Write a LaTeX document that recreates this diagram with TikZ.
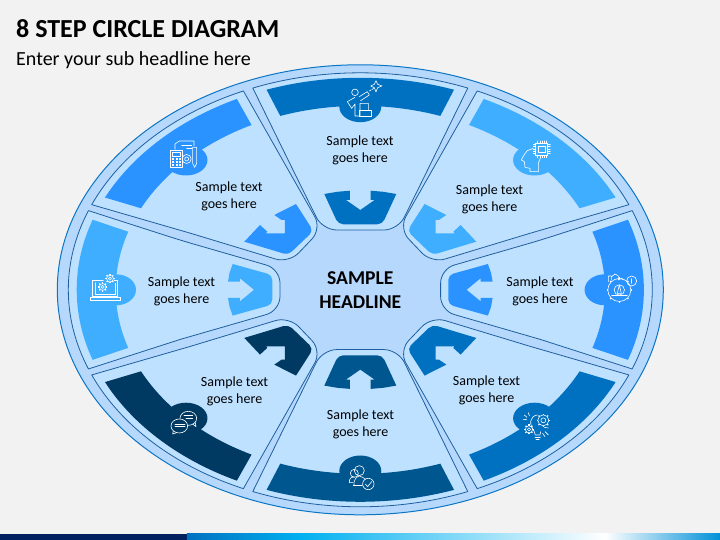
\documentclass[tikz,border=0pt]{standalone}
\usepackage{fontspec}
\setmainfont{Carlito}
\usetikzlibrary{calc}
\definecolor{bgc}{HTML}{F2F2F2}
\definecolor{ringc}{HTML}{B6D8FD}
\definecolor{ringl}{HTML}{0B76C5}
\definecolor{petalc}{HTML}{BDE1FF}
\definecolor{petall}{HTML}{1F5F9E}
\definecolor{colA}{HTML}{0070C0}
\definecolor{colB}{HTML}{2A93FF}
\definecolor{colC}{HTML}{3FAEFF}
\definecolor{colD}{HTML}{00568F}
\definecolor{colE}{HTML}{003A63}
\definecolor{navyc}{HTML}{002060}
\definecolor{skyc}{HTML}{00B0F0}
\definecolor{endc}{HTML}{0090D8}
\tikzset{
  petal/.style={fill=petalc,draw=petall,line width=.8pt,line join=round},
  zf/.style 2 args={shift={({#1-360.3},{289.8-#2})},x=.3333pt,y=-.3333pt},
  icon/.style={draw=white,line width=.6pt,line join=round,line cap=round,fill=none},
  label/.style={align=center,font=\fontsize{14}{17}\selectfont,text=black,inner sep=0pt},
  rc/.style={rounded corners=14pt},
  ra/.style={rounded corners=5pt}
}
% petal paths, in coordinates round the centre
\newcommand\petalTop{(111.6:292 and 217) arc[start angle=111.6,end angle=68.4,x radius=292,y radius=217]
  -- (60,105) [rc] -- (37.7,59.8) -- (-37.7,59.8) -- (-60,105) [sharp corners] -- cycle}
\newcommand\petalDiag{(113.6:292 and 217) arc[start angle=113.6,end angle=156.9,x radius=292,y radius=217]
  -- (-170,56.6) [rc] -- (-71.3,26.7) -- (-38.6,61) -- (-70,116.2) [sharp corners] -- cycle}
\newcommand\petalSide{(158.6:292 and 217) arc[start angle=158.6,end angle=201.4,x radius=292,y radius=217]
  -- (-180,-49.6) [rc] -- (-80.3,-20.8) -- (-80.3,20.8) -- (-180,49.6) [sharp corners] -- cycle}
% arrows
\newcommand\arrowTop{(-36,95.8) -- (-23,98) -- (-10.3,99.1) -- (-10.3,89.8) -- (-14.3,89.8) -- (0,79.8) -- (14.3,89.8) -- (10.3,89.8) -- (10.3,99.1) -- (23,98) -- (36,95.8) -- (28.7,80) [ra] -- (22,65.5) -- (-22,65.5) -- (-28.7,80) [sharp corners] -- cycle}
\newcommand\arrowSide{(-127.6,25.8) -- (-130.8,16.8) -- (-132.3,8.1) -- (-120.3,8.1) -- (-120.3,11.5) -- (-106.3,0) -- (-120.3,-11.5) -- (-120.3,-8.1) -- (-132.3,-8.1) -- (-130.8,-16.8) -- (-127.6,-25.8) -- (-105,-19.5) [ra] -- (-88,-14.8) -- (-88,14.8) -- (-105,19.5) [sharp corners] -- cycle}
\newcommand\arrowDiag{(-64.3,85.8) -- (-86,74.8) -- (-78.6,69.8) -- (-75.3,69.8) -- (-75.3,56.5) -- (-94.3,56.5) -- (-93,58.1) -- (-100.3,64.8) -- (-116,48.1) -- (-94,41.5) [ra] -- (-72,34.8) -- (-47,58.8) -- (-55.6,72.3) [sharp corners] -- cycle}
% band with tab
\newcommand\band[7]{%
  \fill[#5] (#1:283.6 and 212) arc[start angle=#1,end angle=#2,x radius=283.6,y radius=212]
     -- (#4:244.6 and 184) arc[start angle=#4,end angle=#3,x radius=244.6,y radius=184] -- cycle;
  \fill[#5] #6 ellipse [x radius=#7,y radius=15.5];}
\newcommand\icongear[3]{% x y r(pt) in the zoom frame
  \draw[icon] (#1,#2) circle (#3pt);
  \foreach \a in {0,45,...,315}{\draw[icon,line width=1.2pt,line cap=butt] ([shift={(#1,#2)}]\a:#3pt) -- ([shift={(#1,#2)}]\a:#3pt+1.3pt);}
  \draw[icon] (#1,#2) circle (#3pt*.45);}
\begin{document}
\begin{tikzpicture}[x=1pt,y=1pt]
\useasboundingbox (-360.3,-250.2) rectangle (359.7,289.8);
\fill[bgc] (-360.3,-250.2) rectangle (359.7,289.8);
% bottom stripe
\fill[navyc] (-360.3,-250.2) rectangle (-173.3,-244.2);
\shade[left color=colA,right color=skyc] (-173.3,-250.2) rectangle (-60.3,-244.2);
\shade[left color=skyc,right color=white] (-60.3,-250.2) rectangle (244.7,-244.2);
\shade[left color=white,right color=endc] (244.7,-250.2) rectangle (359.7,-244.2);
% title
\node[anchor=base west,inner sep=0pt,font=\fontsize{26}{30}\bfseries\selectfont] (title) at (-344.3,251.8) {8 STEP CIRCLE DIAGRAM};
\node[anchor=base west,inner sep=0pt,font=\fontsize{20}{24}\selectfont] (sub) at (-344.3,223.8) {Enter your sub headline here};
% ring
\draw[fill=ringc,draw=ringl,line width=1pt] (0,0) ellipse [x radius=303,y radius=225];
% petals
\draw[petal] \petalTop;
\draw[petal] \petalDiag;
\draw[petal] \petalSide;
\begin{scope}[xscale=-1]\draw[petal] \petalDiag; \draw[petal] \petalSide;\end{scope}
\begin{scope}[yscale=-1]\draw[petal] \petalTop; \draw[petal] \petalDiag;\end{scope}
\begin{scope}[xscale=-1,yscale=-1]\draw[petal] \petalDiag;\end{scope}
% bands
\band{70.7}{109.3}{70.9}{109.1}{colA}{(0,183.1)}{21}
\band{115.8}{154.2}{116.4}{153.7}{colB}{(-174.3,129.8)}{21.5}
\band{160.7}{199.3}{161.6}{198.4}{colC}{(-244.3,0)}{20}
\band{205.8}{244.2}{206.3}{243.6}{colE}{(-174.3,-128.4)}{21.5}
\band{250.7}{289.3}{250.9}{289.1}{colD}{(0,-181.2)}{21}
\band{295.8}{334.2}{296.4}{333.7}{colA}{(174.3,-128.4)}{21.5}
\band{340.7}{379.3}{341.6}{378.4}{colB}{(244.3,0)}{20}
\band{25.8}{64.2}{26.3}{63.6}{colC}{(174.3,129.8)}{21.5}
% arrows
\fill[colA] \arrowTop;
\fill[colC] \arrowSide;
\fill[colB] \arrowDiag;
\begin{scope}[xscale=-1]\fill[colB] \arrowSide; \fill[colC] \arrowDiag;\end{scope}
\begin{scope}[yscale=-1]\fill[colD] \arrowTop; \fill[colE] \arrowDiag;\end{scope}
\begin{scope}[xscale=-1,yscale=-1]\fill[colA] \arrowDiag;\end{scope}
% labels
\node[label] (tTop) at (-0.3,139.8) {Sample text\\goes here};
\node[label] (tTL) at (-131.3,93.8) {Sample text\\goes here};
\node[label] (tTR) at (129.2,90.8) {Sample text\\goes here};
\node[label] (tL) at (-178.8,-1.2) {Sample text\\goes here};
\node[label] (tR) at (179.7,-1.2) {Sample text\\goes here};
\node[label] (tBL) at (-125.8,-101.2) {Sample text\\goes here};
\node[label] (tBR) at (126.2,-100.2) {Sample text\\goes here};
\node[label] (tB) at (0.2,-134.2) {Sample text\\goes here};
\node[align=center,inner sep=0pt,font=\fontsize{19.6}{24}\bfseries\selectfont] (hub) at (0,-0.7) {SAMPLE\\HEADLINE};
% ---- icons, in frames of the source crop
% top: person with telescope
\begin{scope}[zf={240}{60}]
\draw[icon] (345,97) circle (3.3pt);
\draw[icon] (345,112) -- (322,125) -- (335,145) -- (345,132) -- (345,168) -- (360,168) -- (360,130) -- (385,130) -- (385,150);
\draw[icon] (358,110) -- (382,95) -- (388,105) -- (362,122);
\draw[icon,dash pattern=on 2pt off 1pt] (388,93) -- (402,85);
\draw[icon] (358,150) rectangle (395,170);
\draw[icon] (408,62) -- (413,73) -- (426,78) -- (413,83) -- (408,96) -- (403,83) -- (392,78) -- (403,73) -- cycle;
\end{scope}
% top-left: calculator, coin, pen
\begin{scope}[zf={50}{60}]
\draw[icon] (360,270) rectangle (398,322);
\draw[icon] (367,276) rectangle (392,288);
\foreach \u in {370,380,391}{\foreach \v in {297,307,316}{\fill[white] (\u-3,\v-3) rectangle (\u+3,\v+3);}}
\draw[icon] (375,268) -- (375,252) -- (388,243) -- (432,243) -- (432,258);
\draw[icon] (395,255) -- (425,255) (410,265) -- (425,265);
\draw[icon] (410,297) circle (4.5pt);
\draw[icon] (410,297) circle (2pt);
\draw[icon] (428,262) -- (440,262) -- (440,310) -- (434,322) -- (428,310) -- cycle;
\end{scope}
% top-right: head with chip
\begin{scope}[zf={430}{60}]
\draw[icon] (325,335) -- (300,335) -- (300,325) -- (285,322) -- (283,305) -- (274,300) -- (282,285) -- (292,272) -- (310,265);
\draw[icon] (332,292) -- (325,310) -- (325,335);
\draw[icon,line width=.8pt] (317,250) rectangle (353,286);
\draw[icon,line width=.8pt] (326,259) rectangle (345,278);
\foreach \k in {323,330,337,344,350}{
  \draw[icon] (\k,243) -- (\k,250) (\k,286) -- (\k,293);
  \draw[icon] (310,\k-70) -- (317,\k-70) (353,\k-70) -- (361,\k-70);}
\end{scope}
% left: laptop with gears
\begin{scope}[zf={50}{200}]
\draw[icon] (160,240) -- (127,240) -- (127,290) -- (203,290) -- (203,240) -- (192,240);
\draw[icon] (135,248) -- (135,282) -- (195,282) -- (195,250);
\draw[icon] (120,292) -- (210,292) -- (210,300) -- (120,300) -- cycle;
\icongear{158}{261}{3.4}
\icongear{180}{236}{3.4}
\end{scope}
% right: gear, bars, coin
\begin{scope}[zf={430}{200}]
\icongear{568}{270}{11.5}
\draw[icon] (535,245) -- (535,228) -- (545,228) -- (545,240) (545,230) -- (555,222) -- (565,228) -- (565,240) -- (575,235) -- (580,240);
\draw[icon] (605,243) circle (5pt);
\draw[icon] (605,236) -- (605,250);
\draw[icon] (568,255) -- (562,280) -- (574,280) -- cycle;
\draw[icon] (545,285) -- (592,285);
\end{scope}
% bottom-right: bulb with gears
\begin{scope}[zf={430}{320}]
\icongear{340}{301}{5.5}
\icongear{297}{328}{3.6}
\draw[icon] (322,285) .. controls (300,288) and (295,312) .. (313,335) -- (316,345) -- (330,345) -- (332,335);
\draw[icon] (315,351) -- (331,351) (318,358) -- (328,358);
\draw[icon] (283,285) -- (291,292) (280,298) -- (290,299) (295,278) -- (298,287) (345,335) -- (355,345) (338,340) -- (345,350) (343,322) -- (355,324);
\end{scope}
% bottom: people with check
\begin{scope}[zf={240}{330}]
\draw[icon] (358,422) circle (5pt);
\draw[icon] (343,430) circle (4pt);
\draw[icon] (340,466) -- (367,466);
\draw[icon] (342,466) .. controls (340,450) and (350,440) .. (358,438) .. controls (366,440) and (372,444) .. (376,448);
\draw[icon] (328,458) .. controls (327,445) and (335,440) .. (342,440) (328,458) -- (340,458);
\draw[icon] (385,462) circle (5.7pt);
\draw[icon] (376,462) -- (383,470) -- (395,455);
\end{scope}
% bottom-left: speech bubbles
\begin{scope}[zf={60}{320}]
\draw[icon] (385,295) ellipse [x radius=25,y radius=21];
\fill[colE] (358,318) ellipse [x radius=26,y radius=22];
\draw[icon] (358,318) ellipse [x radius=25,y radius=21];
\draw[icon] (340,333) -- (338,342) -- (350,338);
\draw[icon] (398,312) -- (408,320) -- (406,308);
\draw[icon] (345,312) -- (375,312) (345,320) -- (375,320) (372,285) -- (398,285) (378,295) -- (398,295);
\end{scope}
\end{tikzpicture}
\end{document}
